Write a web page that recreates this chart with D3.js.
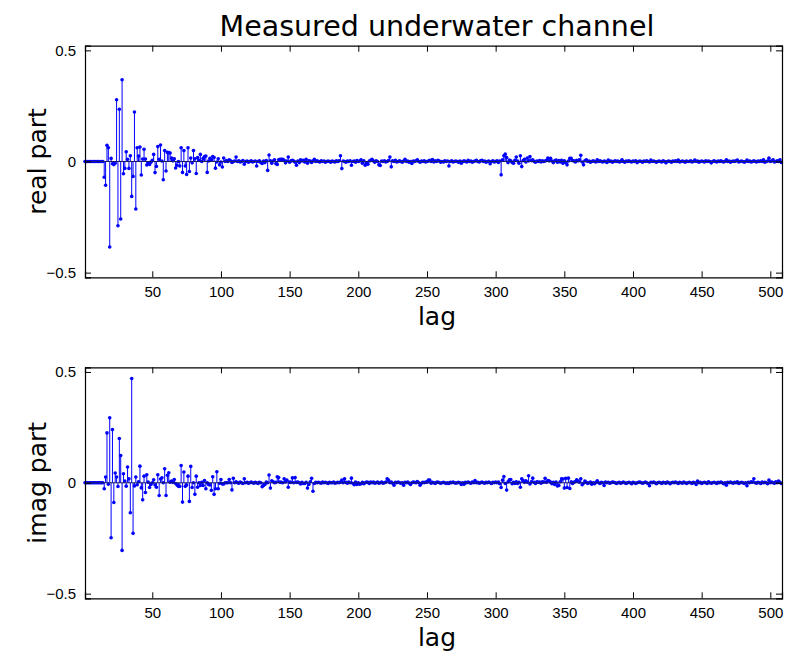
<!DOCTYPE html>
<html>
<head>
<meta charset="utf-8">
<script src="https://cdn.jsdelivr.net/npm/d3@7"></script>
<style>
html,body{margin:0;padding:0;background:#fff;}
svg{display:block;}
</style>
</head>
<body>
<svg id="chart" width="787" height="654"></svg>
<script>
// Channel taps, lags 1..508
const lags = d3.range(1, 509);
const realPart = [
0,0,0,0,0,0,0,0,0,0,
0,0,0,0,-.071,-.107,.073,.062,-.385,.014,
-.01,-.014,-.008,.278,-.289,.235,-.259,.368,-.055,-.031,
.044,.01,-.031,.026,-.157,-.067,.223,-.214,.062,.025,
.065,-.061,.011,.055,.011,-.016,-.006,-.013,-.003,.005,
.032,-.05,-.022,.067,.01,.074,.002,-.082,.049,-.043,
.041,.04,.038,.016,.003,.012,-.029,-.017,0,-.02,
.062,-.049,.049,-.02,-.058,.062,-.045,.016,-.006,.049,
.012,-.054,.018,.005,.032,0,.014,.022,.025,-.049,
.002,.014,.008,.022,.018,-.03,-.002,.012,-.015,-.002,
-.025,.016,0,.004,0,.008,.003,-.004,0,.002,
.02,0,.003,-.002,0,.004,-.012,0,.002,-.003,
0,.003,-.002,0,.002,-.02,0,.003,-.004,-.009,
.002,-.005,.004,-.04,.029,.003,-.008,.002,.008,-.01,
-.013,.008,.01,.01,.01,.005,-.006,.002,.02,-.003,
.003,.005,.002,-.003,-.017,.002,-.005,.008,.002,.005,
-.002,.01,-.008,.003,.002,-.004,.002,.01,0,.003,
0,-.002,.003,0,.002,-.003,0,.002,0,-.003,
.002,0,-.002,.003,0,.003,.026,-.032,.002,0,
-.003,.002,0,.003,-.017,0,.002,-.003,.004,0,
.002,.008,-.008,.003,-.017,-.008,-.012,.002,.005,.01,
.002,-.003,.003,0,-.015,-.018,.002,0,.003,-.002,
0,.004,.02,-.024,.003,0,.005,-.002,0,.003,
0,-.003,.002,.01,0,.002,-.003,0,-.009,.002,
0,.003,.008,0,-.003,.002,0,.003,-.002,0,
.002,.005,0,.009,-.002,.003,0,.005,.002,-.003,
0,-.002,.003,0,.002,-.02,0,.003,-.002,0,
.002,0,-.003,.002,-.008,0,.003,0,-.002,.005,
0,.002,-.003,0,.002,.005,0,-.002,.003,.005,
0,.002,-.003,0,.002,-.01,0,.003,-.002,0,
.003,-.004,.002,-.06,.008,.026,.033,.018,-.005,.006,
.003,-.004,-.008,.005,.02,.002,-.008,.026,-.023,.004,
.01,-.002,.016,.003,.022,.004,.008,0,-.003,.002,
0,.004,-.002,.003,0,.002,.005,.016,.003,.014,
.002,-.005,.003,.006,-.003,.004,-.002,.005,-.008,.003,
-.004,-.015,.002,.014,.014,.004,.003,-.002,.005,.003,
.008,.028,-.002,-.015,.003,.008,0,.002,-.003,0,
.003,0,-.002,.008,0,.003,0,-.002,.002,0,
-.004,.007,0,.002,-.003,0,.003,0,.002,-.002,
0,.008,0,-.003,.002,0,.003,0,-.002,.002,
0,.003,-.005,0,.002,0,-.003,.002,0,.003,
0,-.002,.006,0,.002,0,-.003,0,.002,0,
-.002,.003,0,-.006,0,.002,0,-.003,.002,0,
.003,0,.006,-.002,0,.002,0,-.003,.002,0,
0,.003,-.002,0,.007,0,.002,-.003,0,.002,
0,-.002,.003,0,.002,0,-.006,0,.003,0,
-.002,.002,0,.003,0,-.002,0,.008,0,.002,
-.003,0,.002,0,.003,.007,-.002,0,.002,0,
-.003,0,.006,0,.002,-.002,0,.003,0,-.002,
.002,0,.003,0,.008,-.003,0,.002,.015,0,
.002,.008,-.002,0,.003,0,.008,-.004
];
const imagPart = [
0,0,0,0,0,0,0,0,0,0,
0,0,0,0,-.027,.026,.225,-.006,.293,-.248,
.24,-.089,.044,.026,-.017,.2,.123,-.305,.041,.008,
-.015,.071,.018,-.135,.47,-.228,-.014,.026,-.009,.005,
.075,-.023,-.077,.03,-.044,.036,.003,-.021,-.008,0,
.014,-.01,-.02,.036,-.057,.017,.023,0,.063,-.057,
.034,.045,.003,.008,.002,.015,-.003,-.01,-.016,-.016,
.078,-.087,.049,-.016,-.01,.03,-.084,.074,-.021,0,
-.052,.03,-.02,0,-.012,.002,-.012,.01,-.027,0,
-.008,-.01,-.034,.027,-.052,-.027,.05,-.027,-.002,.015,
-.005,-.005,0,0,0,.015,0,-.032,.02,0,
.005,0,-.002,.003,0,-.003,.018,0,.002,-.002,
0,.003,0,-.002,.002,0,-.003,.002,0,-.018,
-.012,-.008,.003,0,.035,-.024,.009,.005,0,.002,
.027,.024,.003,.002,0,.018,.004,.012,-.02,.003,
.002,.022,0,.024,.002,.003,0,-.005,.002,-.003,
-.003,.002,-.024,-.008,.005,.02,-.038,-.003,.002,0,
.002,0,-.002,.003,0,.002,0,-.003,.002,0,
0,.003,-.002,0,.002,0,.003,.012,0,.018,
.002,-.002,.003,0,.021,-.002,-.009,.003,-.008,0,
-.006,-.004,.002,-.004,0,.003,.002,-.003,.003,0,
.003,-.002,0,.003,-.002,0,.003,-.002,0,.003,
.018,.012,0,.003,-.002,-.011,.002,0,.003,0,
-.002,0,-.011,.002,0,.003,-.002,-.008,0,.003,
.002,0,.006,0,-.011,-.002,.002,0,.003,.003,
.012,.012,-.002,.002,0,-.003,.002,.003,0,-.002,
0,.002,0,-.003,0,-.003,.002,0,.003,0,
-.002,0,.002,0,-.008,0,-.006,.002,0,.003,
0,-.002,.003,0,.01,0,.002,-.002,0,.003,
0,-.002,.002,0,.003,0,-.003,.002,0,.003,
0,.003,-.004,-.021,.012,.028,-.003,-.033,.004,.014,
.015,-.004,.002,-.003,.004,-.003,.002,-.02,.018,.01,
.002,.009,.003,.032,-.005,.004,.021,.002,-.003,.004,
.002,.003,-.002,.004,.003,.02,.002,.01,.008,.003,
-.004,.002,-.008,.003,-.014,-.012,.005,.018,.017,-.024,
.02,-.021,.021,-.026,.004,-.003,.002,.006,.014,.008,
.003,.018,-.009,-.002,.008,.002,-.003,0,.003,-.006,
0,-.004,.002,.009,0,-.003,.002,0,-.012,.003,
0,.002,-.002,0,.003,.002,0,-.003,0,.002,
-.002,0,.003,0,-.003,0,.002,0,-.004,.002,
0,-.003,0,.002,.003,0,-.002,0,.003,0,
-.003,-.013,.002,0,.003,0,-.004,0,.002,0,
-.003,.002,0,-.002,.003,0,-.004,0,.002,0,
.003,0,-.003,.002,0,-.002,.003,0,-.003,0,
.002,0,-.003,.002,0,-.008,.008,0,.002,-.003,
0,.002,0,-.003,.004,0,-.002,0,.002,0,
-.003,.002,0,.003,0,-.004,0,-.011,.002,0,
.003,0,-.002,.002,0,.004,-.003,0,.002,0,
-.003,0,-.013,.002,0,.004,.003,.018,0,-.002,
.002,0,-.003,.003,0,.002,0,-.004,.012,0,
.003,0,-.002,.004,0,.008,.002,-.003
];
const xTicks = [50,100,150,200,250,300,350,400,450,500];
const yTicks = [-0.5, 0, 0.5];
const titleText = "Measured underwater channel";
const xLabel = "lag";
const yLabels = ["real part", "imag part"];

const svg = d3.select("#chart");
const left = 85, right = 782;
const panels = [
  {top: 45.7, bottom: 277.3, values: realPart, label: yLabels[0]},
  {top: 367.3, bottom: 598.3, values: imagPart, label: yLabels[1]}
];
const x = d3.scaleLinear().domain([1, 508.5]).range([left, right]);
const labelFont = "'DejaVu Sans', sans-serif";
const tickFont = "'Liberation Sans', Arial, sans-serif";

svg.append("text").attr("x", 437).attr("y", 36)
  .attr("text-anchor", "middle").attr("font-family", labelFont)
  .attr("font-size", 28.5).attr("fill", "#000").text(titleText);

panels.forEach(p => {
  const y = d3.scaleLinear().domain([-0.521, 0.521]).range([p.bottom, p.top]);
  const g = svg.append("g");
  const data = lags.map((l, i) => ({lag: l, v: p.values[i]}));
  const y0 = y(0);

  // stems
  g.append("g").selectAll("line").data(data).join("line")
    .attr("x1", d => x(d.lag)).attr("x2", d => x(d.lag))
    .attr("y1", y0).attr("y2", d => y(d.v))
    .attr("stroke", "#0000ff").attr("stroke-width", 1);
  // markers
  g.append("g").selectAll("circle").data(data).join("circle")
    .attr("cx", d => x(d.lag)).attr("cy", d => y(d.v)).attr("r", 1.8)
    .attr("fill", "#0000ff");
  // baseline
  g.append("line").attr("x1", left).attr("x2", right)
    .attr("y1", y0).attr("y2", y0).attr("stroke", "#1a1a66").attr("stroke-width", 1);

  // axes (inward ticks, box)
  const axB = d3.axisBottom(x).tickValues(xTicks).tickSize(-6).tickPadding(9).tickFormat(d3.format("d"));
  const axT = d3.axisTop(x).tickValues(xTicks).tickSize(-6).tickFormat("");
  const fmtY = d => d === 0 ? "0" : d3.format(".1f")(d).replace("-", "\u2212");
  const axL = d3.axisLeft(y).tickValues(yTicks).tickSize(-6).tickPadding(9).tickFormat(fmtY);
  const axR = d3.axisRight(y).tickValues(yTicks).tickSize(-6).tickFormat("");

  const gb = g.append("g").attr("transform", `translate(0,${p.bottom})`).call(axB);
  const gt = g.append("g").attr("transform", `translate(0,${p.top})`).call(axT);
  const gl = g.append("g").attr("transform", `translate(${left},0)`).call(axL);
  const gr = g.append("g").attr("transform", `translate(${right},0)`).call(axR);
  [gb, gt, gl, gr].forEach(a => {
    a.selectAll(".domain").attr("stroke", "#000").attr("stroke-width", 1.2);
    a.selectAll(".tick line").attr("stroke", "#000");
    a.selectAll("text").attr("font-family", tickFont).attr("font-size", 15).attr("fill", "#000");
  });

  svg.append("text").attr("x", 437).attr("y", p.bottom + 48)
    .attr("text-anchor", "middle").attr("font-family", labelFont)
    .attr("font-size", 25).attr("fill", "#000").text(xLabel);
  const cy = (p.top + p.bottom) / 2;
  svg.append("text").attr("transform", `translate(46,${cy}) rotate(-90)`)
    .attr("text-anchor", "middle").attr("font-family", labelFont)
    .attr("font-size", 25).attr("fill", "#000").text(p.label);
});
</script>
</body>
</html>
